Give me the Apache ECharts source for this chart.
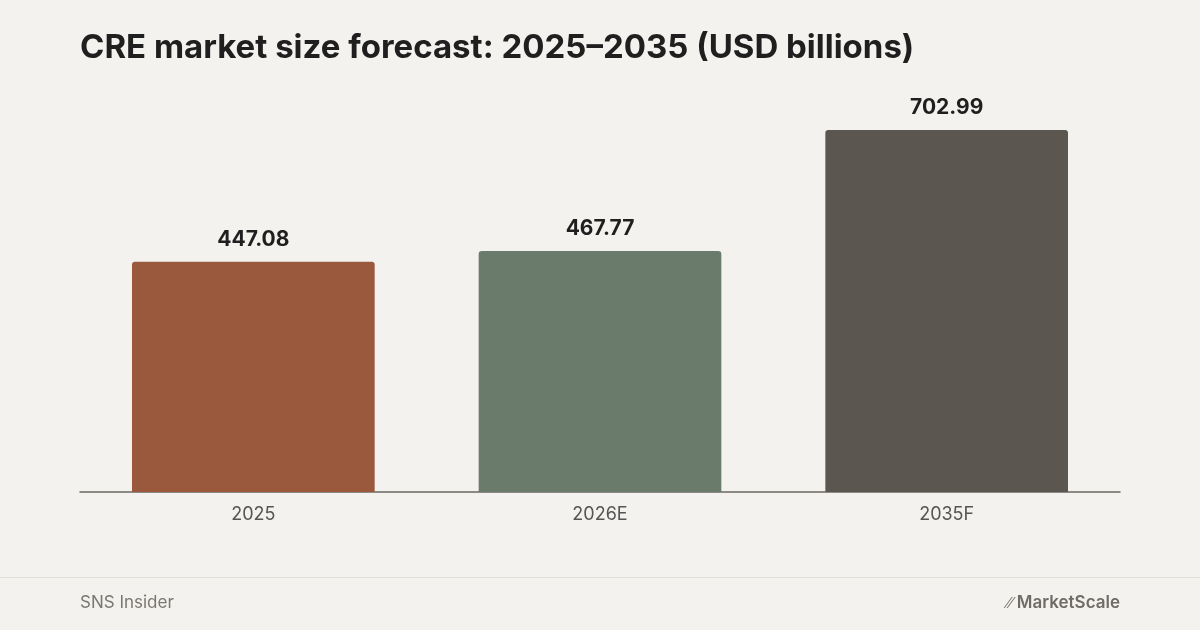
<!DOCTYPE html>
<html>
<head>
<meta charset="utf-8">
<script src="https://cdn.jsdelivr.net/npm/echarts@6/dist/echarts.min.js"></script>
<style>
html,body{margin:0;padding:0;background:#f4f2ee;}
#bar{width:1200px;height:630px;}
</style>
</head>
<body>
<div id="bar"></div>
<script>
// chart data
var categories = ['2025', '2026E', '2035F'];
var values = [447.08, 467.77, 702.99];
var barColors = ['#9a583c', '#6b7b6b', '#5b5650'];

var myChart = echarts.init(document.getElementById('bar'));
var option = {
    backgroundColor: '#f4f2ee',
    textStyle: { fontFamily: 'Inter' },
    title: {
        text: 'CRE market size forecast: 2025\u20132035 (USD billions)',
        left: 75, top: 27,
        textStyle: { color: '#1f1f1f', fontSize: 33, fontWeight: 700, fontFamily: 'Inter' }
    },
    graphic: [
        { type: 'rect', shape: { x: 0, y: 577, width: 1200, height: 1 }, style: { fill: '#e2dfd9' } },
        { type: 'text', left: 80, top: 594, style: { text: 'SNS Insider', fill: '#7a7772', font: '17px Inter' } },
        { type: 'text', right: 80, top: 594, style: { text: '\u2215\u2215 MarketScale', fill: '#6f6c68', font: '600 17px Inter' } }
    ],
    grid: { left: 80, right: 80, top: 80, bottom: 138 },
    xAxis: {
        type: 'category',
        data: categories,
        axisLine: { lineStyle: { color: '#6b6863', width: 1.5 } },
        axisTick: { show: false },
        axisLabel: { color: '#555', fontSize: 18, margin: 14 }
    },
    yAxis: {
        type: 'value', min: 0, max: 800,
        show: false
    },
    series: [{
        type: 'bar',
        barWidth: '70%',
        data: values.map(function (v, i) {
            return { value: v, itemStyle: { color: barColors[i], borderRadius: [3, 3, 0, 0] } };
        }),
        label: {
            show: true, position: 'top', distance: 12,
            color: '#1f1f1f', fontSize: 21, fontWeight: 700,
            formatter: function (p) { return p.value.toFixed(2); }
        }
    }]
};
myChart.setOption(option);
</script>
</body>
</html>
